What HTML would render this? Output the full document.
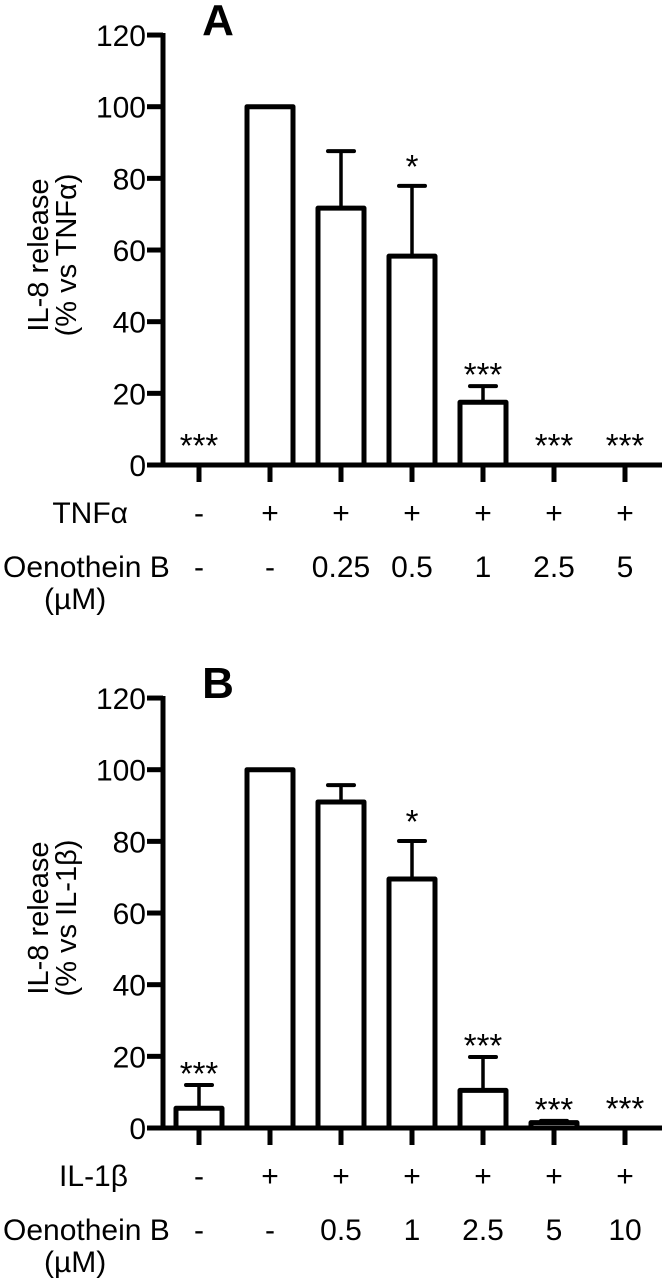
<!DOCTYPE html>
<html><head><meta charset="utf-8"><style>
html,body{margin:0;padding:0;background:#fff;width:666px;height:1282px;overflow:hidden}
svg{display:block}
text{font-family:"Liberation Sans",Arial,sans-serif;fill:#000}
</style></head><body>
<svg id="fig" width="666" height="1282" viewBox="0 0 666 1282"></svg>
<script>
const yTicks=[0,20,40,60,80,100,120];
const aValues=[0,100,71.7,58.3,17.5,0,0];
const aErrors=[0,0,87.6,77.9,22,0,0];
const aStars=["***","","","*","***","***","***"];
const aTreat=["-","+","+","+","+","+","+"];
const aDose=["-","-","0.25","0.5","1","2.5","5"];
const bValues=[5.5,100,91,69.5,10.5,1.5,0];
const bErrors=[12,0,95.7,80.1,19.8,2,0];
const bStars=["***","","","*","***","***","***"];
const bTreat=["-","+","+","+","+","+","+"];
const bDose=["-","-","0.5","1","2.5","5","10"];

const NS="http://www.w3.org/2000/svg";
const svg=document.getElementById('fig');
function mk(tag,attrs,parent,txt){const e=document.createElementNS(NS,tag);for(const k in attrs)e.setAttribute(k,attrs[k]);if(txt!==undefined)e.textContent=txt;(parent||svg).appendChild(e);return e;}

function panel(off,letter,values,errors,stars,treat,dose,treatLabel,yLabel2){
  const g=mk('g',{transform:'translate(0,'+off+')'});
  
  
  const y0=465, k=3.583, xAxis=163, x0=199, step=71;
  const Y=v=>y0-v*k, X=i=>x0+i*step;
  const t=mk('text',{x:218,y:35,'font-size':44,'font-weight':'bold','text-anchor':'middle'},g,letter);
  
  
  const ya=mk('line',{x1:xAxis,y1:Y(120)-2,x2:xAxis,y2:y0+2.5,stroke:'#000','stroke-width':5},g);
  
  
  yTicks.forEach(v=>{
    mk('line',{x1:xAxis-16,y1:Y(v),x2:xAxis,y2:Y(v),stroke:'#000','stroke-width':5},g);
    const tl=mk('text',{x:xAxis-17,y:Y(v)+11,'font-size':30,'text-anchor':'end'},g,String(v));
    
    
  });
  const yt=mk('text',{transform:'translate(48,255) rotate(-90)','font-size':29,'text-anchor':'middle'},g);
  
  
  mk('tspan',{x:0,y:0},yt,'IL-8 release');
  mk('tspan',{x:0,y:28},yt,yLabel2);
  const xa=mk('line',{x1:xAxis-2,y1:y0,x2:662,y2:y0,stroke:'#000','stroke-width':5},g);
  
  
  values.forEach((v,i)=>{
    const cx=X(i);
    mk('line',{x1:cx,y1:y0,x2:cx,y2:y0+17,stroke:'#000','stroke-width':5},g);
    if(v>0){
      const h=v*k;
      if(errors[i]>v){
        const el=mk('line',{x1:cx,y1:Y(errors[i]),x2:cx,y2:Y(v),stroke:'#000','stroke-width':3.5},g);
        
        
        mk('line',{x1:cx-13,y1:Y(errors[i]),x2:cx+13,y2:Y(errors[i]),stroke:'#000','stroke-width':4,'stroke-linecap':'round'},g);
      }
      const r=mk('rect',{x:cx-23,y:Y(v),width:46,height:Math.max(h,1),fill:'#fff',stroke:'#000','stroke-width':5,'stroke-linejoin':'round'},g);
      
      
    }
    if(stars[i]){
      const top=Math.max(v,errors[i]);
      let base;
      if(top>0) base=Y(top)-(stars[i]==='*'?8:0);
      else base=y0-8;
      const s=mk('text',{x:cx,y:base,'font-size':33,'text-anchor':'middle'},g,stars[i]);
      
      
    }
    const tr=mk('text',{x:cx,y:523,'font-size':30,'text-anchor':'middle'},g,treat[i]);
    
    
    const d=mk('text',{x:cx,y:577,'font-size':30,'text-anchor':'middle'},g,dose[i]);
    
    
  });
  const tl=mk('text',{x:128,y:523,'font-size':30,'text-anchor':'end'},g,treatLabel);
  
  
  const ol=mk('text',{x:3,y:577,'font-size':30},g,'Oenothein B');
  
  
  const um=mk('text',{x:44,y:609,'font-size':30},g,'(\u00b5M)');
  
  
}
panel(0,'A',aValues,aErrors,aStars,aTreat,aDose,'TNF\u03b1','(% vs TNF\u03b1)');
panel(663,'B',bValues,bErrors,bStars,bTreat,bDose,'IL-1\u03b2','(% vs IL-1\u03b2)');
</script>
</body></html>
